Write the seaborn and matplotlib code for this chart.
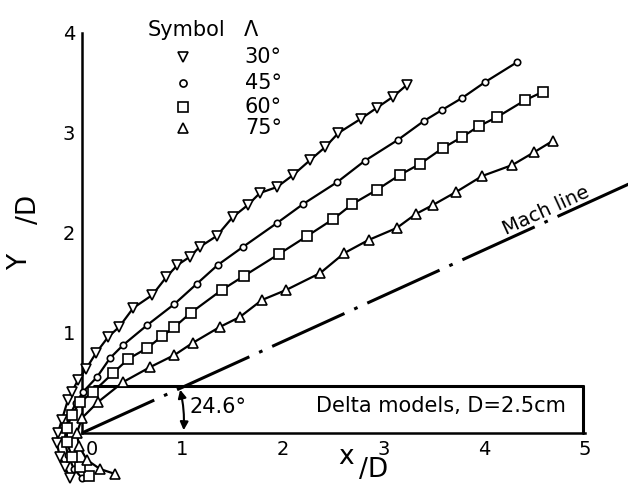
import numpy as np
import pandas as pd
import matplotlib
matplotlib.use("Agg")
import matplotlib.pyplot as plt
from matplotlib.patches import FancyArrowPatch
import seaborn as sns

# ---- data ----
x30 = [-0.12, -0.17, -0.22, -0.25, -0.24, -0.20, -0.14, -0.10, -0.04, 0.04, 0.14, 0.26, 0.37, 0.51,
       0.70, 0.84, 0.95, 1.07, 1.17, 1.34, 1.50, 1.65, 1.77, 1.94, 2.10, 2.27, 2.42, 2.55, 2.77,
       2.93, 3.09, 3.23]
y30 = [-0.45, -0.34, -0.24, -0.10, 0.00, 0.13, 0.33, 0.41, 0.53, 0.64, 0.80, 0.96, 1.06, 1.25,
       1.38, 1.56, 1.68, 1.76, 1.86, 1.97, 2.16, 2.28, 2.40, 2.46, 2.58, 2.73, 2.86, 3.00, 3.14,
       3.25, 3.36, 3.48]

x45 = [0.00, -0.08, -0.14, -0.17, -0.16, -0.12, -0.06, 0.01, 0.15, 0.28, 0.41, 0.65, 0.92, 1.14,
       1.35, 1.60, 1.94, 2.20, 2.54, 2.81, 3.14, 3.40, 3.58, 3.78, 4.01, 4.33]
y45 = [-0.45, -0.36, -0.22, -0.08, 0.06, 0.18, 0.30, 0.41, 0.56, 0.75, 0.88, 1.08, 1.29, 1.49,
       1.68, 1.86, 2.10, 2.29, 2.51, 2.72, 2.93, 3.12, 3.23, 3.35, 3.51, 3.71]

x60 = [0.07, -0.02, -0.10, -0.15, -0.15, -0.10, -0.02, 0.11, 0.31, 0.46, 0.65, 0.80, 0.92, 1.08,
       1.39, 1.61, 1.96, 2.24, 2.50, 2.69, 2.93, 3.16, 3.36, 3.59, 3.78, 3.95, 4.13, 4.41, 4.58]
y60 = [-0.43, -0.34, -0.24, -0.09, 0.05, 0.18, 0.31, 0.41, 0.60, 0.74, 0.85, 0.97, 1.06, 1.20,
       1.43, 1.57, 1.79, 1.97, 2.14, 2.29, 2.43, 2.58, 2.69, 2.85, 2.96, 3.07, 3.16, 3.33, 3.41]

x75 = [0.33, 0.18, 0.05, -0.03, -0.05, 0.00, 0.16, 0.41, 0.68, 0.92, 1.10, 1.37, 1.57, 1.79,
       2.03, 2.37, 2.61, 2.85, 3.13, 3.32, 3.49, 3.72, 3.98, 4.28, 4.50, 4.68]
y75 = [-0.41, -0.36, -0.27, -0.13, 0.00, 0.15, 0.31, 0.51, 0.66, 0.78, 0.90, 1.06, 1.16, 1.33,
       1.43, 1.60, 1.80, 1.93, 2.05, 2.19, 2.28, 2.41, 2.57, 2.68, 2.81, 2.92]

sweep_labels = ["30°", "45°", "60°", "75°"]
mach_angle_deg = 24.6
box_label = "Delta models, D=2.5cm"
x_ticks = [0, 1, 2, 3, 4, 5]
y_ticks = [1, 2, 3, 4]

series = [(x30, y30, "v", 7.0), (x45, y45, "o", 4.6), (x60, y60, "s", 6.6), (x75, y75, "^", 6.6)]

# ---- figure ----
sns.set_theme(style="white")
plt.rcParams["font.family"] = ["DejaVu Sans"]
plt.rcParams["text.color"] = "black"
fig = plt.figure(figsize=(6.28, 4.94), dpi=100)
ax = fig.add_axes([0, 0, 1, 1])
ax.set_facecolor("white")

for xs, ys, m, ms in series:
    sns.lineplot(x=xs, y=ys, sort=False, estimator=None, ax=ax, color="black", lw=1.6,
                 marker=m, markersize=ms, markerfacecolor="white", markeredgecolor="black",
                 markeredgewidth=1.2, zorder=3)

# Mach line
t = np.tan(np.radians(mach_angle_deg))
sns.lineplot(x=[0, 5.6], y=[0, 5.6 * t], ax=ax, color="black", lw=2.2,
             linestyle=(0, (26, 3.5, 1.2, 3.5)), zorder=2)
ax.text(4.62, 2.22, "Mach line", rotation=mach_angle_deg, fontsize=14,
        ha="center", va="center", rotation_mode="anchor")

# box
ax.plot([0.12, 4.98], [0.47, 0.47], color="black", lw=2.2, zorder=2)
ax.plot([4.98, 4.98], [0.47, 0.0], color="black", lw=2.2, zorder=2)
ax.text(3.57, 0.27, box_label, fontsize=15, ha="center", va="center")

# angle annotation
arr = FancyArrowPatch((0.97, 0.46), (1.01, 0.0), arrowstyle="<|-|>", mutation_scale=12,
                      connectionstyle="arc3,rad=-0.08", color="black", lw=1.5)
ax.add_patch(arr)
ax.text(1.07, 0.26, "24.6°", fontsize=15, ha="left", va="center")

# axes
ax.set_xlim(-0.815, 5.43)
ax.set_ylim(-0.61, 4.33)
for s in ["top", "right"]:
    ax.spines[s].set_visible(False)
ax.spines["left"].set_position(("data", 0))
ax.spines["bottom"].set_position(("data", 0))
ax.spines["left"].set_bounds(0, 4)
ax.spines["bottom"].set_bounds(0, 5)
for s in ["left", "bottom"]:
    ax.spines[s].set_linewidth(1.8)
    ax.spines[s].set_color("black")
ax.set_xticks(x_ticks)
ax.set_xticklabels([""] + [str(v) for v in x_ticks[1:]])
ax.set_yticks(y_ticks)
ax.set_yticklabels([str(v) for v in y_ticks])
ax.tick_params(direction="in", length=6, width=1.5, labelsize=14, colors="black", pad=5)
ax.text(0.1, -0.07, "0", fontsize=14, ha="center", va="top")

# axis labels
ax.text(2.63, -0.24, "x", fontsize=19, ha="center", va="center")
ax.text(2.90, -0.37, "/D", fontsize=19, ha="center", va="center")
ax.text(-0.62, 1.71, "Y", fontsize=19, ha="center", va="center", rotation=90)
ax.text(-0.53, 2.24, "/D", fontsize=19, ha="center", va="center", rotation=90)

# legend drawn as a table
ax.text(1.04, 4.03, "Symbol", fontsize=15, ha="center", va="center")
ax.text(1.68, 4.03, "Λ", fontsize=15, ha="center", va="center")
rows_y = [3.76, 3.50, 3.26, 3.05]
for (xs, ys, m, ms), lab, ry in zip(series, sweep_labels, rows_y):
    ax.plot([1.0], [ry], marker=m, markersize=ms + 0.5, markerfacecolor="white",
            markeredgecolor="black", markeredgewidth=1.2, linestyle="none")
    ax.text(1.62, ry, lab, fontsize=15, ha="left", va="center")

fig.savefig("out.png", dpi=100)
